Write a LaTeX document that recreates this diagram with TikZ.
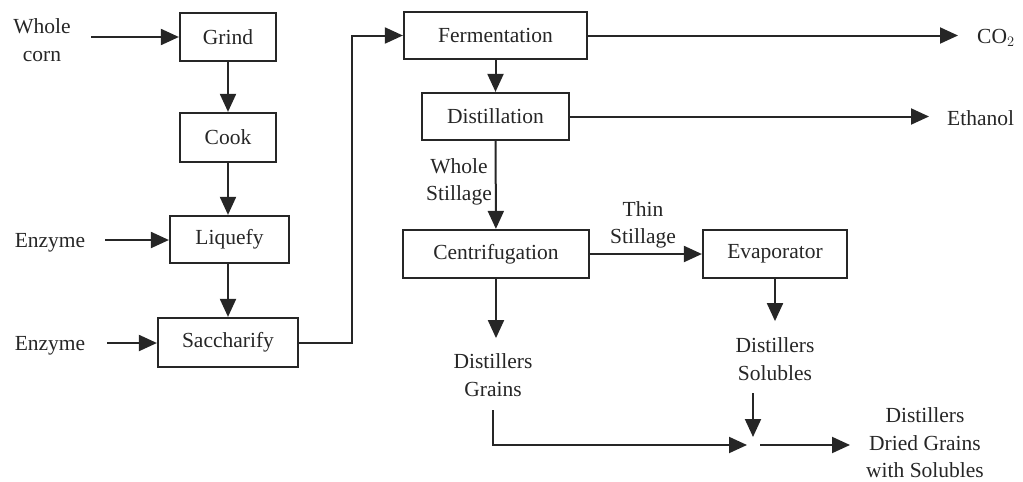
\documentclass[tikz,border=0pt]{standalone}
\usepackage{fontspec}
\setmainfont{Liberation Serif}
\usetikzlibrary{arrows.meta}
\begin{document}
\begin{tikzpicture}[x=1pt,y=-1pt,
  every node/.style={font=\fontsize{21.5}{27.5}\selectfont, text=black!85},
  box/.style={draw=black!85, line width=2.2pt, inner sep=0pt},
  lbl/.style={align=center, inner sep=0pt},
  arr/.style={draw=black!85, line width=2pt, -{Triangle[length=18pt,width=16pt]}}]
\useasboundingbox (0,0) rectangle (1023,482);
% boxes
\node[box, minimum width=96pt, minimum height=48pt] (grind) at (228,37) {Grind};
\node[box, minimum width=96pt, minimum height=49pt] (cook) at (228,137.5) {Cook};
\node[box, minimum width=119pt, minimum height=47pt] (liq) at (229.5,239.5) {Liquefy};
\node[box, minimum width=140pt, minimum height=49pt] (sac) at (228,342.5) {Saccharify};
\node[box, minimum width=183pt, minimum height=47pt] (fer) at (495.5,35.5) {Fermentation};
\node[box, minimum width=147pt, minimum height=47pt] (dis) at (495.5,116.5) {Distillation};
\node[box, minimum width=186pt, minimum height=48pt] (cen) at (496,254) {Centrifugation};
\node[box, minimum width=144pt, minimum height=48pt] (eva) at (775,254) {Evaporator};
% labels
\node[lbl] (wc) at (42,40) {Whole\\corn};
\node[lbl] (en1) at (50,243) {Enzyme};
\node[lbl] (en2) at (50,346) {Enzyme};
\node[lbl, anchor=west] (co2) at (977,38) {CO$_2$};
\node[lbl, anchor=west] (eth) at (947,118) {Ethanol};
\node[lbl, anchor=east] (ws) at (492,182) {Whole\\Stillage};
\node[lbl] (ts) at (643,225) {Thin\\Stillage};
\node[lbl] (dg) at (493,375) {Distillers\\Grains};
\node[lbl] (ds) at (775,359) {Distillers\\Solubles};
\node[lbl] (ddgs) at (925,443) {Distillers\\Dried Grains\\with Solubles};
% free ends
\coordinate (wcout) at (91,37);
\coordinate (en1out) at (105,240);
\coordinate (en2out) at (107,343);
\coordinate (j) at (753,445);
\coordinate (dsout) at (753,393);
\coordinate (dgout) at (493,410);
% connectors
\draw[arr] (wcout) -- (grind.west);
\draw[arr] (grind) -- (cook);
\draw[arr] (cook) -- (liq.north -| cook);
\draw[arr] (en1out) -- (liq.west |- en1out);
\draw[arr] (liq.south -| sac) -- (sac.north);
\draw[arr] (en2out) -- (sac.west |- en2out);
\draw[arr] (sac.east) -- ++(53,0) |- (fer.west);
\draw[arr, shorten >=19pt] (fer.east) -- (co2.west |- fer.east);
\draw[arr, shorten >=18pt] (dis.east) -- (eth.west |- dis.east);
\draw[arr] (fer) -- (dis);
\draw[arr] (dis) -- (cen);
\draw[arr] (cen) -- (eva);
\draw[arr] (cen.south) -- ++(0,59);
\draw[arr] (eva.south) -- ++(0,42);
\draw[arr, shorten >=8pt] (dsout) -- (j);
\draw[arr, shorten >=6pt] (dgout) |- (j);
\draw[arr, shorten <=7pt] (j) -- (850,445);
\end{tikzpicture}
\end{document}
